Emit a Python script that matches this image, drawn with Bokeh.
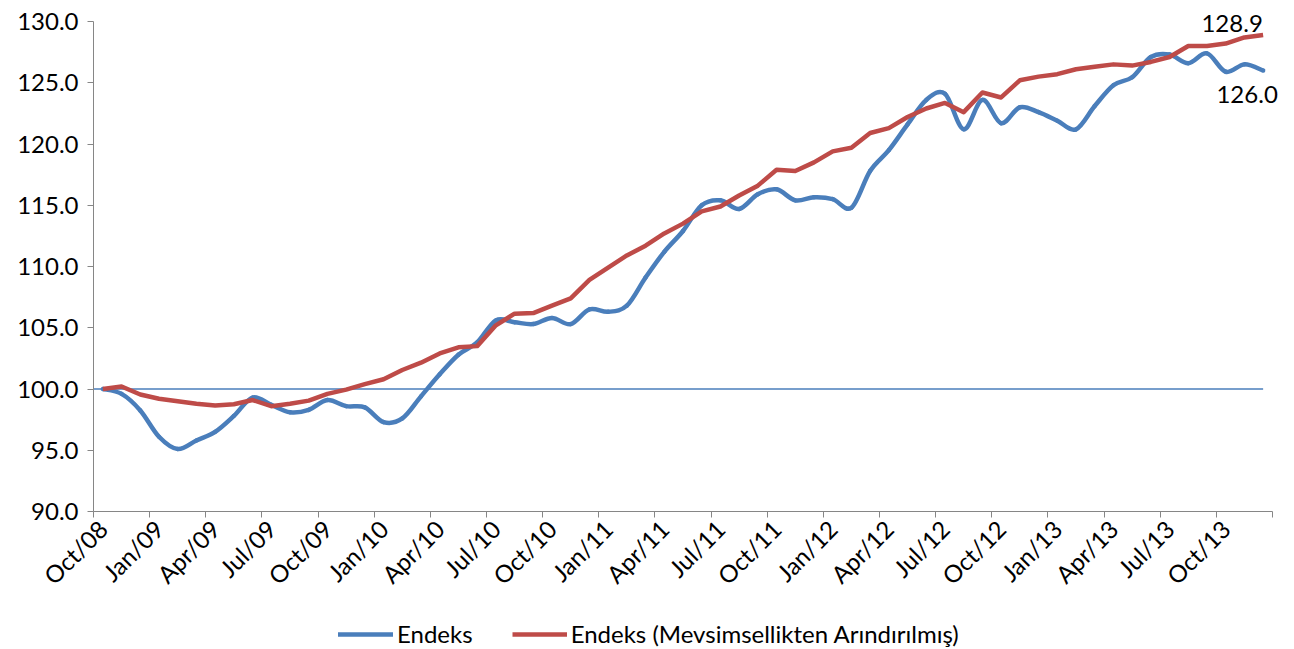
import math
import numpy as np
from bokeh.plotting import figure
from bokeh.models import (ColumnDataSource, FixedTicker, NumeralTickFormatter, Range1d,
                          Legend, LegendItem, Label)
from bokeh.embed import file_html
from bokeh.resources import INLINE

# ---------------- data ----------------
months = ["Oct/08", "Nov/08", "Dec/08",
          "Jan/09", "Feb/09", "Mar/09", "Apr/09", "May/09", "Jun/09",
          "Jul/09", "Aug/09", "Sep/09", "Oct/09", "Nov/09", "Dec/09",
          "Jan/10", "Feb/10", "Mar/10", "Apr/10", "May/10", "Jun/10",
          "Jul/10", "Aug/10", "Sep/10", "Oct/10", "Nov/10", "Dec/10",
          "Jan/11", "Feb/11", "Mar/11", "Apr/11", "May/11", "Jun/11",
          "Jul/11", "Aug/11", "Sep/11", "Oct/11", "Nov/11", "Dec/11",
          "Jan/12", "Feb/12", "Mar/12", "Apr/12", "May/12", "Jun/12",
          "Jul/12", "Aug/12", "Sep/12", "Oct/12", "Nov/12", "Dec/12",
          "Jan/13", "Feb/13", "Mar/13", "Apr/13", "May/13", "Jun/13",
          "Jul/13", "Aug/13", "Sep/13", "Oct/13", "Nov/13", "Dec/13"]

tick_labels = ["Oct/08", "Jan/09", "Apr/09", "Jul/09", "Oct/09", "Jan/10", "Apr/10",
               "Jul/10", "Oct/10", "Jan/11", "Apr/11", "Jul/11", "Oct/11", "Jan/12",
               "Apr/12", "Jul/12", "Oct/12", "Jan/13", "Apr/13", "Jul/13", "Oct/13"]

endeks = [100.0, 99.6, 98.25, 96.1, 95.1, 95.8, 96.5, 97.8, 99.3, 98.7,
          98.1, 98.3, 99.1, 98.6, 98.5, 97.3, 97.6, 99.4, 101.2, 102.8,
          103.8, 105.6, 105.45, 105.3, 105.8, 105.3, 106.5, 106.3, 106.8, 109.1,
          111.2, 112.9, 115.0, 115.4, 114.7, 115.9, 116.3, 115.4, 115.65, 115.5,
          114.8, 117.8, 119.5, 121.6, 123.6, 124.1, 121.2, 123.6, 121.7, 123.0,
          122.6, 121.9, 121.2, 123.1, 124.8, 125.45, 127.1, 127.3, 126.6, 127.4,
          125.9, 126.5, 126.0]

endeks_sa = [100.0, 100.2, 99.55, 99.2, 99.0, 98.8, 98.65, 98.75, 99.1, 98.6,
             98.8, 99.05, 99.6, 99.95, 100.4, 100.8, 101.55, 102.15, 102.9, 103.4,
             103.5, 105.2, 106.15, 106.2, 106.8, 107.4, 108.9, 109.9, 110.9, 111.7,
             112.7, 113.5, 114.5, 114.9, 115.8, 116.6, 117.9, 117.8, 118.5, 119.4,
             119.7, 120.9, 121.3, 122.2, 122.9, 123.35, 122.6, 124.2, 123.8, 125.2,
             125.5, 125.7, 126.1, 126.3, 126.5, 126.4, 126.7, 127.1, 128.0, 128.0,
             128.2, 128.7, 128.9]

series_names = ["Endeks", "Endeks (Mevsimsellikten Arındırılmış)"]
BASE = 100.0
Y_MIN, Y_MAX, Y_STEP = 90, 130, 5
TICK_EVERY = 3

# ---------------- style / layout ----------------
FONT = "Lato"
FSIZE = "24px"
BLUE = "#4A7EBB"
RED = "#BE4B48"
AXIS = "#868686"

n = len(months)
x = np.arange(n, dtype=float)

CANVAS_W, CANVAS_H = 1290, 649
PX_PER_CAT = 18.714          # horizontal pixels per month
PX_PER_UNIT = 12.25          # vertical pixels per index point
AXIS_LEFT_PX = 93            # where the value axis sits
TOP_PX = 21                  # where the 130 line sits
x_start = -0.5 - AXIS_LEFT_PX / PX_PER_CAT
x_end = x_start + CANVAS_W / PX_PER_CAT
y_end = Y_MAX + TOP_PX / PX_PER_UNIT
y_start = y_end - CANVAS_H / PX_PER_UNIT

p = figure(frame_width=CANVAS_W, frame_height=CANVAS_H, output_backend="svg",
           toolbar_location=None,
           x_range=Range1d(x_start, x_end), y_range=Range1d(y_start, y_end),
           min_border=0, min_border_left=0, min_border_right=0,
           min_border_top=0, min_border_bottom=0)
p.outline_line_color = None
p.grid.visible = False
p.background_fill_color = "white"
p.border_fill_color = "white"

# reference line at 100
p.line(x=[-0.5, x[-1]], y=[BASE, BASE], line_color=BLUE, line_width=1.5)

# smoothed blue series (bezier through the data points)
yb = np.array(endeks, dtype=float)
seg = dict(x0=[], y0=[], x1=[], y1=[], cx0=[], cy0=[], cx1=[], cy1=[])
for i in range(n - 1):
    a = max(i - 1, 0)
    d = min(i + 2, n - 1)
    seg["x0"].append(x[i]); seg["y0"].append(yb[i])
    seg["x1"].append(x[i + 1]); seg["y1"].append(yb[i + 1])
    seg["cx0"].append(x[i] + (x[i + 1] - x[a]) / 6.0)
    seg["cy0"].append(yb[i] + (yb[i + 1] - yb[a]) / 6.0)
    seg["cx1"].append(x[i + 1] - (x[d] - x[i]) / 6.0)
    seg["cy1"].append(yb[i + 1] - (yb[d] - yb[i]) / 6.0)
r_blue = p.bezier(x0="x0", y0="y0", x1="x1", y1="y1", cx0="cx0", cy0="cy0",
                  cx1="cx1", cy1="cy1", source=ColumnDataSource(seg),
                  line_color=BLUE, line_width=4.5, line_cap="round")

r_red = p.line(x, endeks_sa, line_color=RED, line_width=4.5, line_join="round")

# ---------------- axes ----------------
xa = p.xaxis[0]
xa.fixed_location = Y_MIN
xa.bounds = (-0.5, n - 0.5)
xa.ticker = FixedTicker(ticks=list(range(0, n, TICK_EVERY)),
                        minor_ticks=[i - 0.5 for i in range(0, n + 1, TICK_EVERY)])
xa.major_label_overrides = {i * TICK_EVERY: lab for i, lab in enumerate(tick_labels)}
xa.major_tick_out = 0
xa.major_tick_in = 0
xa.minor_tick_out = 6
xa.minor_tick_in = 0
xa.minor_tick_line_color = AXIS
xa.axis_line_color = AXIS
xa.major_label_orientation = math.pi / 4
xa.major_label_text_font = FONT
xa.major_label_text_font_size = FSIZE
xa.major_label_text_color = "black"
xa.major_label_standoff = 7

ya = p.yaxis[0]
ya.fixed_location = -0.5
ya.bounds = (Y_MIN, Y_MAX)
ya.ticker = FixedTicker(ticks=list(range(Y_MIN, Y_MAX + 1, Y_STEP)))
ya.formatter = NumeralTickFormatter(format="0.0")
ya.major_tick_out = 6
ya.major_tick_in = 0
ya.minor_tick_line_color = None
ya.major_tick_line_color = AXIS
ya.axis_line_color = AXIS
ya.major_label_text_font = FONT
ya.major_label_text_font_size = FSIZE
ya.major_label_text_color = "black"
ya.major_label_standoff = 9

# ---------------- end labels ----------------
p.add_layout(Label(x=x[-1], y=endeks_sa[-1], text=f"{endeks_sa[-1]:.1f}",
                   x_offset=-31, y_offset=11, text_align="center",
                   text_baseline="alphabetic", text_font=FONT,
                   text_font_size=FSIZE, text_color="black"))
p.add_layout(Label(x=x[-1], y=endeks[-1], text=f"{endeks[-1]:.1f}",
                   x_offset=-16, y_offset=-24, text_align="center",
                   text_baseline="alphabetic", text_font=FONT,
                   text_font_size=FSIZE, text_color="black"))

# ---------------- legend ----------------
legend = Legend(items=[LegendItem(label=series_names[0], renderers=[r_blue]),
                       LegendItem(label=series_names[1], renderers=[r_red])],
                orientation="horizontal", location=(338, 1),
                glyph_width=55, glyph_height=24, label_height=24,
                label_standoff=4, spacing=39, padding=0, margin=0,
                border_line_color=None, background_fill_alpha=0,
                label_text_font=FONT, label_text_font_size=FSIZE,
                label_text_color="black")
p.add_layout(legend, "center")

open("out.html", "w").write(file_html(p, INLINE))
